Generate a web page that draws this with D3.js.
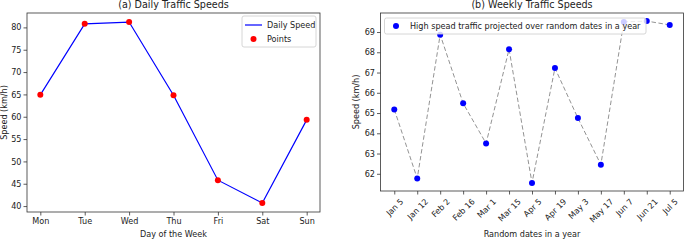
<!DOCTYPE html>
<html>
<head>
<meta charset="utf-8">
<script src="https://cdn.jsdelivr.net/npm/d3@7"></script>
<style>
  body { margin: 0; background: #fff; }
  svg text { font-family: "DejaVu Sans", sans-serif; fill: #222; }
</style>
</head>
<body>
<svg id="chart" width="685" height="240"></svg>
<script>
var days = ["Mon", "Tue", "Wed", "Thu", "Fri", "Sat", "Sun"];
var dailySpeed = [64.9, 80.8, 81.2, 64.8, 45.8, 40.7, 59.3];

var dates = ["Jan 5", "Jan 12", "Feb 2", "Feb 16", "Mar 1", "Mar 15", "Apr 5",
  "Apr 19", "May 3", "May 17", "Jun 7", "Jun 21", "Jul 5"];
var weeklySpeed = [65.18, 61.77, 68.87, 65.48, 63.5, 68.15, 61.55,
  67.22, 64.75, 62.45, 69.5, 69.54, 69.35];

var leftTicks = [40, 45, 50, 55, 60, 65, 70, 75, 80];
var rightTicks = [62, 63, 64, 65, 66, 67, 68, 69];

var svg = d3.select("#chart");
var fs = 8.1;

// matplotlib-style 5% padding
function padded(lo, hi) {
  var m = (hi - lo) * 0.05;
  return [lo - m, hi + m];
}

function styleAxis(g) {
  g.select(".domain").remove();
  g.selectAll(".tick line").attr("stroke", "#333").attr("stroke-width", 0.8);
  g.selectAll(".tick text").attr("font-size", fs).attr("fill", "#222");
}

// ---------- (a) daily ----------
(function daily() {
  var L = 27, R = 320, T = 13, B = 212;
  var x = d3.scaleLinear().domain([-0.3, days.length - 1 + 0.3]).range([L, R]);
  var y = d3.scaleLinear().domain(padded(d3.min(dailySpeed), d3.max(dailySpeed))).range([B, T]);

  var g = svg.append("g");

  g.append("g").attr("transform", "translate(0," + B + ")")
    .call(d3.axisBottom(x).tickValues(d3.range(days.length)).tickFormat(function(i) { return days[i]; }).tickSize(3.5).tickPadding(3))
    .call(styleAxis);
  g.append("g").attr("transform", "translate(" + L + ",0)")
    .call(d3.axisLeft(y).tickValues(leftTicks).tickSize(3.5).tickPadding(2))
    .call(styleAxis);

  var line = d3.line().x(function(d, i) { return x(i); }).y(function(d) { return y(d); });
  g.append("path").datum(dailySpeed)
    .attr("d", line).attr("fill", "none").attr("stroke", "blue").attr("stroke-width", 1.2);

  g.selectAll(".pt").data(dailySpeed).enter().append("circle")
    .attr("cx", function(d, i) { return x(i); })
    .attr("cy", function(d) { return y(d); })
    .attr("r", 3).attr("fill", "red");

  g.append("rect").attr("x", L).attr("y", T).attr("width", R - L).attr("height", B - T)
    .attr("fill", "none").attr("stroke", "#333").attr("stroke-width", 0.8);

  g.append("text").attr("x", (L + R) / 2).attr("y", 8).attr("text-anchor", "middle")
    .attr("font-size", 9.6).text("(a) Daily Traffic Speeds");
  g.append("text").attr("x", (L + R) / 2).attr("y", 237).attr("text-anchor", "middle")
    .attr("font-size", fs).text("Day of the Week");
  g.append("text").attr("transform", "translate(7," + (T + B) / 2 + ") rotate(-90)")
    .attr("text-anchor", "middle").attr("font-size", fs).text("Speed (km/h)");

  var lg = g.append("g").attr("transform", "translate(242,16)");
  lg.append("rect").attr("width", 74).attr("height", 31).attr("rx", 2)
    .attr("fill", "#fff").attr("fill-opacity", 0.8).attr("stroke", "#ccc").attr("stroke-width", 0.8);
  lg.append("line").attr("x1", 3).attr("x2", 20).attr("y1", 9).attr("y2", 9)
    .attr("stroke", "blue").attr("stroke-width", 1.2);
  lg.append("circle").attr("cx", 11.5).attr("cy", 23).attr("r", 3).attr("fill", "red");
  lg.append("text").attr("x", 25).attr("y", 12).attr("font-size", fs).text("Daily Speed");
  lg.append("text").attr("x", 25).attr("y", 26).attr("font-size", fs).text("Points");
})();

// ---------- (b) weekly ----------
(function weekly() {
  var L = 380.5, R = 683.5, T = 13, B = 191;
  var x = d3.scaleLinear().domain([-0.6, dates.length - 1 + 0.6]).range([L, R]);
  var y = d3.scaleLinear().domain(padded(d3.min(weeklySpeed), d3.max(weeklySpeed))).range([B, T]);

  var g = svg.append("g");

  var xa = g.append("g").attr("transform", "translate(0," + B + ")")
    .call(d3.axisBottom(x).tickValues(d3.range(dates.length)).tickFormat(function(i) { return dates[i]; }).tickSize(3.5))
    .call(styleAxis);
  // rotated 45deg, box centred under the tick (like matplotlib ha="center")
  xa.selectAll(".tick text").each(function() {
    var t = d3.select(this);
    var w = this.getComputedTextLength();
    var h = fs * 0.9;
    var cy = 3.5 + 3 + (w + h) / (2 * Math.SQRT2);
    t.attr("text-anchor", "middle").attr("dy", "0.35em").attr("y", 0)
      .attr("transform", "translate(0," + cy + ") rotate(-45)");
  });

  g.append("g").attr("transform", "translate(" + L + ",0)")
    .call(d3.axisLeft(y).tickValues(rightTicks).tickSize(3.5).tickPadding(2))
    .call(styleAxis);

  var line = d3.line().x(function(d, i) { return x(i); }).y(function(d) { return y(d); });
  g.append("path").datum(weeklySpeed)
    .attr("d", line).attr("fill", "none").attr("stroke", "gray").attr("stroke-opacity", 0.85)
    .attr("stroke-width", 1).attr("stroke-dasharray", "4.5,2.5");

  g.selectAll(".pt").data(weeklySpeed).enter().append("circle")
    .attr("cx", function(d, i) { return x(i); })
    .attr("cy", function(d) { return y(d); })
    .attr("r", 3).attr("fill", "blue");

  var lg = g.append("g").attr("transform", "translate(384.5,18)");
  lg.append("rect").attr("width", 261.5).attr("height", 16).attr("rx", 2)
    .attr("fill", "#fff").attr("fill-opacity", 0.8).attr("stroke", "#ccc").attr("stroke-width", 0.8);
  lg.append("circle").attr("cx", 11.5).attr("cy", 8).attr("r", 3).attr("fill", "blue");
  lg.append("text").attr("x", 25.5).attr("y", 11).attr("font-size", fs)
    .text("High spead traffic projected over random dates in a year");

  g.append("rect").attr("x", L).attr("y", T).attr("width", R - L).attr("height", B - T)
    .attr("fill", "none").attr("stroke", "#333").attr("stroke-width", 0.8);

  g.append("text").attr("x", (L + R) / 2).attr("y", 8).attr("text-anchor", "middle")
    .attr("font-size", 9.6).text("(b) Weekly Traffic Speeds");
  g.append("text").attr("x", (L + R) / 2).attr("y", 237).attr("text-anchor", "middle")
    .attr("font-size", fs).text("Random dates in a year");
  g.append("text").attr("transform", "translate(359," + (T + B) / 2 + ") rotate(-90)")
    .attr("text-anchor", "middle").attr("font-size", fs).text("Speed (km/h)");
})();
</script>
</body>
</html>
